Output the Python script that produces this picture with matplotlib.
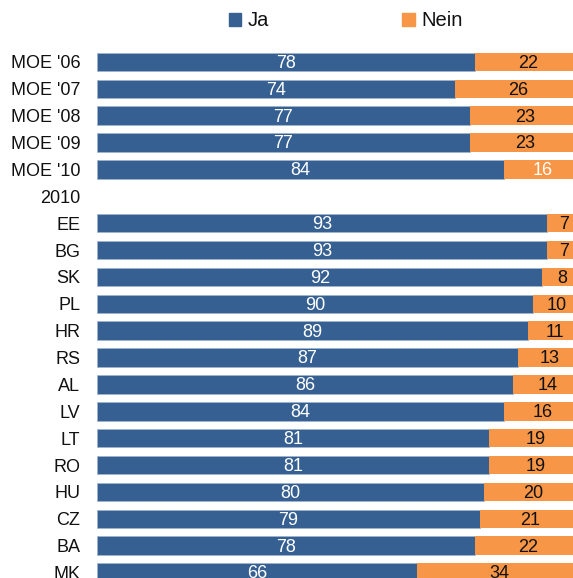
import matplotlib
matplotlib.use("Agg")
import matplotlib.pyplot as plt
from matplotlib.patches import Patch

plt.rcParams['font.family'] = ['Liberation Sans', 'DejaVu Sans']

# rows, top to bottom; '2010' is only a heading row
labels = ["MOE '06", "MOE '07", "MOE '08", "MOE '09", "MOE '10", "2010",
          "EE", "BG", "SK", "PL", "HR", "RS", "AL", "LV", "LT", "RO",
          "HU", "CZ", "BA", "MK"]
ja = [78, 74, 77, 77, 84, None,
      93, 93, 92, 90, 89, 87, 86, 84, 81, 81, 80, 79, 78, 66]
nein = [22, 26, 23, 23, 16, None,
        7, 7, 8, 10, 11, 13, 14, 16, 19, 19, 20, 21, 22, 34]

BLUE = "#366092"
ORANGE = "#F79646"

W, H = 573, 578
fig = plt.figure(figsize=(W / 100, H / 100), dpi=100)

# axes placed in pixel terms
left_px, top_px = 97, 40
ax = fig.add_axes([left_px / W, 0, 1 - left_px / W, (H - top_px) / H])

pitch = 26.87
c0 = 62.0  # pixel centre of first row
y_top = (top_px - c0) / pitch
y_bot = (H - c0) / pitch
ax.set_ylim(y_bot, y_top)
ax.set_xlim(0, 98.3)

bh = 0.69
for i, (j, n) in enumerate(zip(ja, nein)):
    if j is None:
        continue
    ax.barh(i, j, height=bh, color=BLUE, edgecolor="#9db3cf", linewidth=0.6)
    ax.barh(i, n, left=j, height=bh, color=ORANGE, linewidth=0)
    ax.text(j / 2, i + 0.05, str(j), color="white", ha="center", va="center",
            fontsize=13)
    tc = "white" if labels[i] == "MOE '10" else "#111111"
    ax.text(j + n / 2, i + 0.05, str(n), color=tc, ha="center", va="center",
            fontsize=13)

ax.set_yticks(range(len(labels)))
ax.set_yticklabels(labels, fontsize=13)
ax.tick_params(axis="y", length=0, pad=12, colors="#111111")
ax.set_xticks([])
for s in ax.spines.values():
    s.set_visible(False)

handles = [Patch(color=BLUE, label="Ja"), Patch(color=ORANGE, label="Nein")]
fig.legend(handles=handles, loc="center left",
           bbox_to_anchor=(229 / W, 1 - 21 / H), ncol=2, frameon=False,
           fontsize=14.5, handlelength=0.6, handleheight=0.6,
           handletextpad=0.35, columnspacing=6.6, borderpad=0,
           borderaxespad=0, labelcolor="#111111")

fig.savefig("out.png", dpi=100)
